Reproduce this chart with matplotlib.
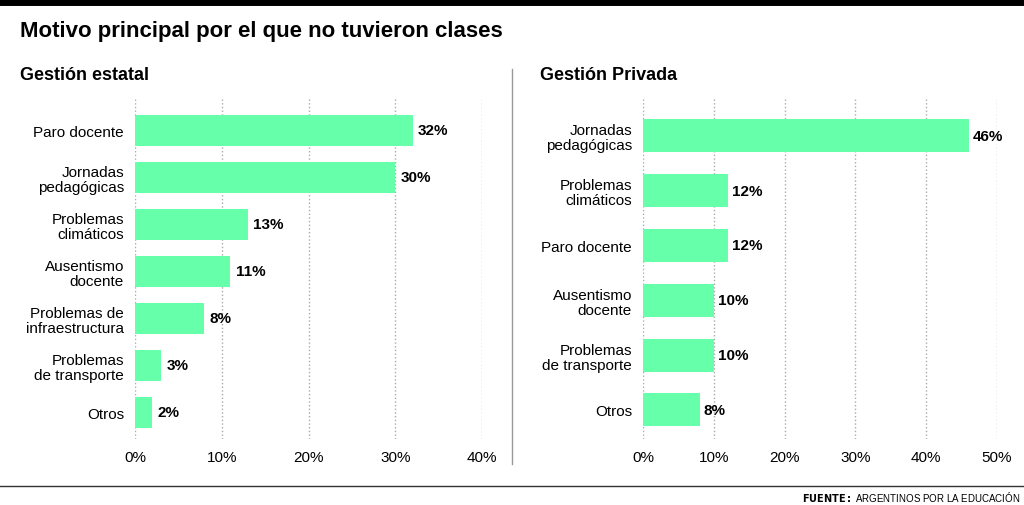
import matplotlib
matplotlib.use("Agg")
import matplotlib.pyplot as plt

left_cats = ["Paro docente", "Jornadas\npedagógicas", "Problemas\nclimáticos", "Ausentismo\ndocente",
             "Problemas de\ninfraestructura", "Problemas\nde transporte", "Otros"]
left_vals = [32, 30, 13, 11, 8, 3, 2]
right_cats = ["Jornadas\npedagógicas", "Problemas\nclimáticos", "Paro docente", "Ausentismo\ndocente",
              "Problemas\nde transporte", "Otros"]
right_vals = [46, 12, 12, 10, 10, 8]
left_ticks = [0, 10, 20, 30, 40]
right_ticks = [0, 10, 20, 30, 40, 50]

plt.rcParams["font.family"] = "Liberation Sans"
W, H = 1024, 506
fig = plt.figure(figsize=(W/100, H/100), dpi=100)
color = "#66FFAA"

def panel(rect, cats, vals, ticks, ylim, bh):
    ax = fig.add_axes(rect)
    ys = list(range(len(cats)))
    ax.barh(ys, vals, height=bh, color=color, zorder=2)
    for y, v in zip(ys, vals):
        ax.text(v + 0.6, y, f"{v}%", va="center", ha="left", fontsize=11, fontweight="bold")
    ax.set_yticks(ys)
    ax.set_yticklabels(cats, fontsize=11, linespacing=1.1)
    ax.set_xticks(ticks)
    ax.set_xticklabels([f"{t}%" for t in ticks], fontsize=11)
    ax.set_xlim(0, ticks[-1])
    ax.set_ylim(*ylim)
    ax.grid(axis="x", color="#aaaaaa", linestyle=":", linewidth=1, zorder=0)
    for s in ax.spines.values():
        s.set_visible(False)
    ax.tick_params(length=0, pad=8)
    return ax

panel([135/W, 1-440/H, 347/W, 340/H], left_cats, left_vals, left_ticks, (6.57, -0.66), 0.66)
panel([643/W, 1-440/H, 354/W, 340/H], right_cats, right_vals, right_ticks, (5.53, -0.67), 0.6)

fig.add_artist(plt.Line2D([0, 1], [1-2.5/H, 1-2.5/H], color="black", linewidth=5))
fig.text(20/W, 1-32/H, "Motivo principal por el que no tuvieron clases", fontsize=16, fontweight="bold", va="center")
fig.text(20/W, 1-76/H, "Gestión estatal", fontsize=13, fontweight="bold", va="center")
fig.text(540/W, 1-76/H, "Gestión Privada", fontsize=13, fontweight="bold", va="center")
fig.add_artist(plt.Line2D([512/W, 512/W], [1-465/H, 1-70/H], color="#999999", linewidth=1))
fig.add_artist(plt.Line2D([0, 1], [1-487/H, 1-487/H], color="#333333", linewidth=1))
fig.text(1020/W, 1-497/H, r"$\bf{FUENTE:}$ ARGENTINOS POR LA EDUCACIÓN", fontsize=7, ha="right", va="center")
fig.savefig("out.png", dpi=100)
